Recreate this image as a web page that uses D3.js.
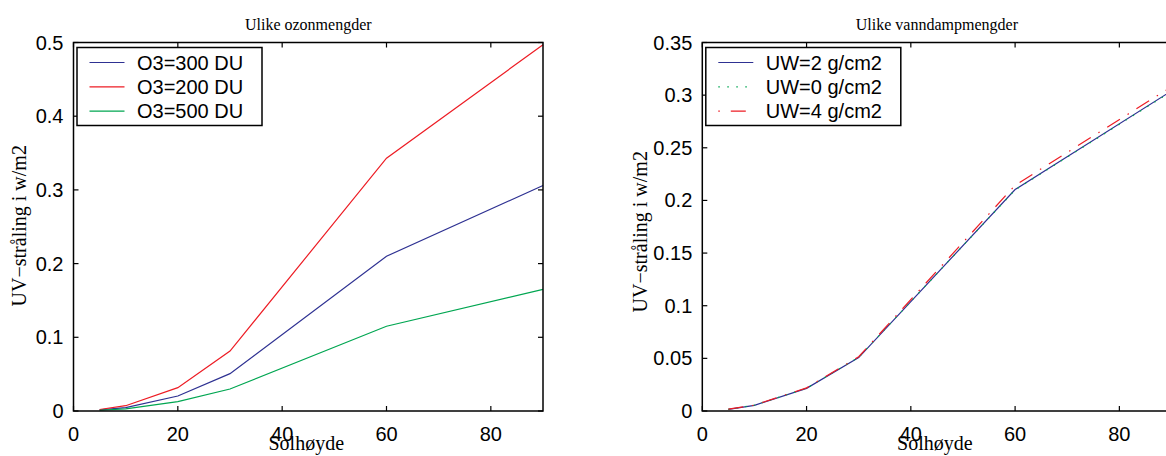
<!DOCTYPE html>
<html>
<head>
<meta charset="utf-8">
<script src="https://cdn.jsdelivr.net/npm/d3@7"></script>
<style>
  body { margin: 0; background: #fff; }
  svg { display: block; }
</style>
</head>
<body>
<svg id="chart" width="1166" height="456"></svg>
<script>
// solhøyde (grader)
const elevation = [5, 10, 20, 30, 60, 90];

// venstre panel: ulike ozonmengder
const o3Labels = ['O3=300 DU', 'O3=200 DU', 'O3=500 DU'];
const o3_300 = [0.0015, 0.0045, 0.0204, 0.0507, 0.210, 0.306];
const o3_200 = [0.002, 0.0072, 0.0317, 0.0814, 0.343, 0.497];
const o3_500 = [0.001, 0.003, 0.0127, 0.0299, 0.115, 0.165];

// høyre panel: ulike vanndampmengder
const uwLabels = ['UW=2 g/cm2', 'UW=0 g/cm2', 'UW=4 g/cm2'];
const uw_2 = [0.0016, 0.0054, 0.0215, 0.0507, 0.2103, 0.304];
const uw_0 = [0.0016, 0.0055, 0.0216, 0.0510, 0.2100, 0.3035];
const uw_4 = [0.0017, 0.0056, 0.0220, 0.0515, 0.2144, 0.308];

const xTicks = [0, 20, 40, 60, 80];
const yTicksOzone = [0, 0.1, 0.2, 0.3, 0.4, 0.5];
const yTickLabelsOzone = ['0', '0.1', '0.2', '0.3', '0.4', '0.5'];
const yTicksVapour = [0, 0.05, 0.1, 0.15, 0.2, 0.25, 0.3, 0.35];
const yTickLabelsVapour = ['0', '0.05', '0.1', '0.15', '0.2', '0.25', '0.3', '0.35'];

const BLUE = '#2e3192', RED = '#ed1c24', GREEN = '#00a651';
const SANS = '"Liberation Sans", Arial, sans-serif';
const SERIF = '"Liberation Serif", "Times New Roman", serif';

const svg = d3.select('#chart');

function drawPanel(p) {
  const x = d3.scaleLinear().domain([0, 90]).range([p.left, p.right]);
  const y = d3.scaleLinear().domain([0, p.yMax]).range([p.bottom, p.top]);
  const g = svg.append('g');
  const tick = 5;

  // linjer
  const line = d3.line().x((d, i) => x(elevation[i])).y(d => y(d));
  p.series.forEach(s => {
    g.append('path')
      .datum(s.values)
      .attr('d', line)
      .attr('fill', 'none')
      .attr('stroke', s.color)
      .attr('stroke-width', 1.2)
      .attr('stroke-dasharray', s.dash || null);
  });

  // ramme
  g.append('rect')
    .attr('x', p.left).attr('y', p.top)
    .attr('width', p.right - p.left).attr('height', p.bottom - p.top)
    .attr('fill', 'none').attr('stroke', '#000').attr('stroke-width', 1.5);

  // x-ticks, innover på topp og bunn
  xTicks.forEach(t => {
    g.append('line').attr('x1', x(t)).attr('x2', x(t))
      .attr('y1', p.bottom).attr('y2', p.bottom - tick)
      .attr('stroke', '#000').attr('stroke-width', 1.2);
    g.append('line').attr('x1', x(t)).attr('x2', x(t))
      .attr('y1', p.top).attr('y2', p.top + tick)
      .attr('stroke', '#000').attr('stroke-width', 1.2);
    g.append('text')
      .attr('x', x(t)).attr('y', p.bottom + 30)
      .attr('text-anchor', 'middle')
      .style('font-family', SANS).style('font-size', '20px')
      .text(t);
  });

  p.yTicks.forEach((t, i) => {
    g.append('line').attr('x1', p.left).attr('x2', p.left + tick)
      .attr('y1', y(t)).attr('y2', y(t))
      .attr('stroke', '#000').attr('stroke-width', 1.2);
    g.append('line').attr('x1', p.right).attr('x2', p.right - tick)
      .attr('y1', y(t)).attr('y2', y(t))
      .attr('stroke', '#000').attr('stroke-width', 1.2);
    g.append('text')
      .attr('x', p.left - 10).attr('y', y(t) + 7)
      .attr('text-anchor', 'end')
      .style('font-family', SANS).style('font-size', '20px')
      .text(p.yTickLabels[i]);
  });

  // tittel og aksetekster
  const cx = (p.left + p.right) / 2;
  g.append('text')
    .attr('x', cx).attr('y', 30)
    .attr('text-anchor', 'middle')
    .style('font-family', SERIF).style('font-size', '16px')
    .text(p.title);
  g.append('text')
    .attr('x', cx - 2).attr('y', 450)
    .attr('text-anchor', 'middle')
    .style('font-family', SERIF).style('font-size', '20px')
    .text('Solhøyde');
  g.append('text')
    .attr('transform', `translate(${p.yLabelX},${(p.top + p.bottom) / 2 + p.yLabelDy}) rotate(-90)`)
    .attr('text-anchor', 'middle')
    .style('font-family', SERIF).style('font-size', '20px')
    .text('UV−stråling i w/m2');

  // legende
  const lx = p.left + 3.5, ly = p.top + 5;
  g.append('rect')
    .attr('x', lx).attr('y', ly)
    .attr('width', p.legendW).attr('height', 78)
    .attr('fill', '#fff').attr('stroke', '#000').attr('stroke-width', 1.5);
  p.series.forEach((s, i) => {
    const ry = ly + 15 + i * 24.3;
    g.append('line')
      .attr('x1', lx + 12.5).attr('x2', lx + 47.5)
      .attr('y1', ry).attr('y2', ry)
      .attr('stroke', s.color).attr('stroke-width', 1.2)
      .attr('stroke-dasharray', s.legendDash || s.dash || null);
    g.append('text')
      .attr('x', lx + 60).attr('y', ry + 7)
      .style('font-family', SANS).style('font-size', '20px')
      .text(s.label);
  });
}

drawPanel({
  left: 73.5, right: 543, top: 42.5, bottom: 411,
  yMax: 0.5, yTicks: yTicksOzone, yTickLabels: yTickLabelsOzone,
  title: 'Ulike ozonmengder', yLabelX: 26, yLabelDy: -1, legendW: 185,
  series: [
    { label: o3Labels[0], values: o3_300, color: BLUE },
    { label: o3Labels[1], values: o3_200, color: RED },
    { label: o3Labels[2], values: o3_500, color: GREEN }
  ]
});

drawPanel({
  left: 702.3, right: 1171.5, top: 42.5, bottom: 411,
  yMax: 0.35, yTicks: yTicksVapour, yTickLabels: yTickLabelsVapour,
  title: 'Ulike vanndampmengder', yLabelX: 647, yLabelDy: 5, legendW: 195,
  series: [
    { label: uwLabels[0], values: uw_2, color: BLUE },
    { label: uwLabels[1], values: uw_0, color: GREEN, dash: '1.5 7', legendDash: '1.5 7.5' },
    { label: uwLabels[2], values: uw_4, color: RED, dash: '15 9 1.5 9', legendDash: '1.5 11 15 20' }
  ]
});
</script>
</body>
</html>
